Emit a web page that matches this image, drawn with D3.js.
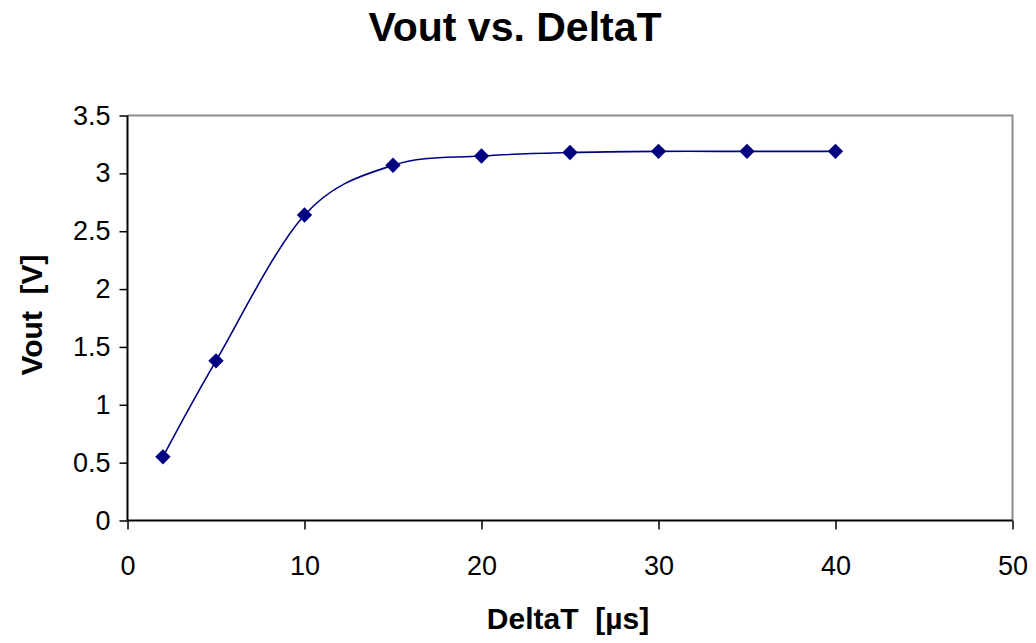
<!DOCTYPE html>
<html>
<head>
<meta charset="utf-8">
<script src="https://cdn.jsdelivr.net/npm/d3@7"></script>
<style>
  html, body { margin: 0; padding: 0; background: #fff; }
  svg { display: block; }
  text { font-family: "Liberation Sans", Arial, sans-serif; fill: #000; }
</style>
</head>
<body>
<svg id="chart" width="1036" height="643"></svg>
<script>
// Measured output voltage against pulse width
const deltaT = [2, 5, 10, 15, 20, 25, 30, 35, 40];
const vout = [0.55, 1.38, 2.64, 3.07, 3.15, 3.18, 3.19, 3.19, 3.19];
const xTicks = [0, 10, 20, 30, 40, 50];
const yTicks = [0, 0.5, 1, 1.5, 2, 2.5, 3, 3.5];

const titleText = "Vout vs. DeltaT";
const xTitle = "DeltaT  [\u00b5s]";
const yTitle = "Vout  [V]";

const W = 1036, H = 643;
const plot = { left: 127.5, right: 1012.5, top: 115.5, bottom: 520.5 };
const navy = "#000080";

const svg = d3.select("#chart");

const x = d3.scaleLinear().domain([0, 50]).range([plot.left, plot.right]);
const y = d3.scaleLinear().domain([0, 3.5]).range([plot.bottom, plot.top]);

// Plot frame: grey top/right edges
svg.append("path")
  .attr("d", `M${plot.left},${plot.top}H${plot.right}V${plot.bottom}`)
  .attr("fill", "none")
  .attr("stroke", "#8c8c8c")
  .attr("stroke-width", 2);

// Axes
const xAxis = d3.axisBottom(x).tickValues(xTicks).tickSize(9).tickPadding(26).tickFormat(d3.format("d"));
const yAxis = d3.axisLeft(y).tickValues(yTicks).tickSize(8).tickPadding(9).tickFormat(d => String(d));

const gx = svg.append("g").attr("transform", `translate(0,${plot.bottom})`).call(xAxis);
const gy = svg.append("g").attr("transform", `translate(${plot.left},0)`).call(yAxis);

[gx, gy].forEach(g => {
  g.select(".domain").attr("stroke", "#000").attr("stroke-width", 2);
  g.selectAll(".tick line").attr("stroke", "#000").attr("stroke-width", 1.5);
  g.selectAll(".tick text")
    .attr("font-family", "'Liberation Sans', Arial, sans-serif")
    .attr("font-size", 27)
    .attr("fill", "#000");
});
gx.select(".domain").attr("d", `M${plot.left},0H${plot.right}`);
gy.select(".domain").attr("d", `M0,${plot.bottom}V${plot.top}`);

// Smoothed data line
const line = d3.line()
  .x((d, i) => x(deltaT[i]))
  .y(d => y(d))
  .curve(d3.curveCardinal.tension(0));

svg.append("path")
  .datum(vout)
  .attr("d", line)
  .attr("fill", "none")
  .attr("stroke", navy)
  .attr("stroke-width", 1.6);

// Diamond markers
const diamond = d3.symbol().type(d3.symbolDiamond2).size(150);
svg.append("g").selectAll("path")
  .data(vout)
  .join("path")
  .attr("d", diamond)
  .attr("transform", (d, i) => `translate(${x(deltaT[i])},${y(d)})`)
  .attr("fill", navy);

// Titles
svg.append("text")
  .attr("x", 515)
  .attr("y", 41)
  .attr("text-anchor", "middle")
  .attr("font-size", 41)
  .attr("font-weight", "bold")
  .text(titleText);

svg.append("text")
  .attr("x", 568)
  .attr("y", 629)
  .attr("text-anchor", "middle")
  .attr("font-size", 30)
  .attr("font-weight", "bold")
  .style("white-space", "pre")
  .text(xTitle);

svg.append("text")
  .attr("transform", `translate(42,315) rotate(-90)`)
  .attr("text-anchor", "middle")
  .attr("font-size", 30)
  .attr("font-weight", "bold")
  .style("white-space", "pre")
  .text(yTitle);
</script>
</body>
</html>
